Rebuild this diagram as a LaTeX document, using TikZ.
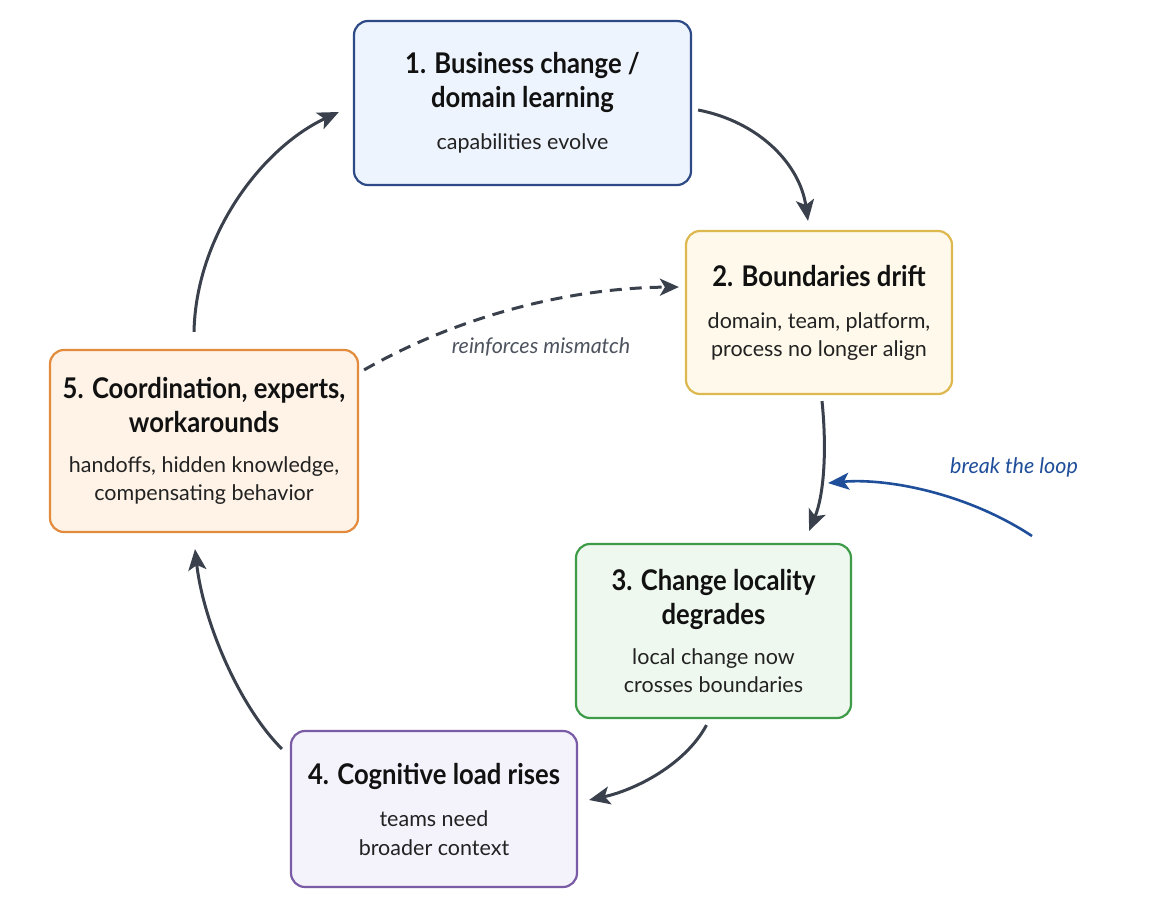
\documentclass[tikz,border=0pt]{standalone}
\usepackage{fontspec}
\setmainfont{Lato}
\newfontfamily\titlefont[FakeStretch=0.9]{Lato}
\usetikzlibrary{arrows.meta,calc}
\definecolor{arrowc}{HTML}{3A414D}
\definecolor{bluec}{HTML}{1F4E9A}
\definecolor{f1}{HTML}{EEF4FD}\definecolor{d1}{HTML}{2E4A86}
\definecolor{f2}{HTML}{FEF9EA}\definecolor{d2}{HTML}{DDB84E}
\definecolor{f3}{HTML}{EFF8EF}\definecolor{d3}{HTML}{3E9B48}
\definecolor{f4}{HTML}{F4F2FB}\definecolor{d4}{HTML}{7A5BA6}
\definecolor{f5}{HTML}{FEF3E6}\definecolor{d5}{HTML}{E38B3D}
\newcommand\ttl[1]{{\titlefont\bfseries\fontsize{28.5}{28}\selectfont\color[HTML]{111111}#1}}
\newcommand\sub[1]{{\color[HTML]{222222}#1}}
\begin{document}
\begin{tikzpicture}[x=1pt,y=-1pt,
  box/.style={rectangle,rounded corners=14pt,line width=2.2pt,align=center,
    inner sep=0pt,font=\fontsize{21.5}{28}\selectfont},
  arr/.style={line width=3pt,draw=arrowc,-{Stealth[length=21pt,width=18pt,inset=5pt]}},
  darr/.style={line width=3pt,draw=arrowc,dash pattern=on 12pt off 8pt,-{Stealth[length=19pt,width=17pt,inset=5pt]}},
  barr/.style={line width=2.6pt,draw=bluec,-{Stealth[length=21pt,width=17pt,inset=5pt]}},
  lbl/.style={font=\itshape\fontsize{21.5}{24}\selectfont}
]
\fill[white] (0,0) rectangle (1151,917);
\useasboundingbox (0,0) rectangle (1151,917);

\node[box,fill=f1,draw=d1,minimum width=337pt,minimum height=164pt] (b1) at (522.5,103)
  {\ttl{1. Business change /}\\[6pt]\ttl{domain learning}\\[14pt]\sub{capabilities evolve}};
\node[box,fill=f2,draw=d2,minimum width=266pt,minimum height=163pt] (b2) at (819,312.5)
  {\ttl{2. Boundaries drift}\\[14pt]\sub{domain, team, platform,}\\\sub{process no longer align}};
\node[box,fill=f3,draw=d3,minimum width=275pt,minimum height=174pt] (b3) at (713.5,631)
  {\ttl{3. Change locality}\\[6pt]\ttl{degrades}\\[12pt]\sub{local change now}\\\sub{crosses boundaries}};
\node[box,fill=f4,draw=d4,minimum width=286pt,minimum height=156pt] (b4) at (434,809)
  {\ttl{4. Cognitive load rises}\\[14pt]\sub{teams need}\\[1pt]\sub{broader context}};
\node[box,fill=f5,draw=d5,minimum width=308pt,minimum height=182pt] (b5) at (204,441)
  {\ttl{5. Coordination, experts,}\\[6pt]\ttl{workarounds}\\[12pt]\sub{handoffs, hidden knowledge,}\\\sub{compensating behavior}};

% main cycle
\draw[arr] ($(b1.east)+(6,7)$) .. controls (760,122) and (800,165) .. ($(b2.north)+(-11,-9)$);
\draw[arr] ($(b2.south)+(3,6)$) .. controls (827,450) and (824,495) .. ($(b3.north east)+(-43,-12)$);
\draw[arr] ($(b3.south)+(-7,6)$) .. controls (685,765) and (635,790) .. ($(b4.east)+(11,-9)$);
\draw[arr] ($(b4.north west)+(-8,19)$) .. controls (238,705) and (203,620) .. ($(b5.south)+(-9,16)$);
\draw[arr] ($(b5.north)+(-10,-17)$) .. controls (196,235) and (262,148) .. ($(b1.west)+(-14,9)$);

% dashed feedback
\draw[darr] ($(b5.north east)+(5,21)$) .. controls (455,318) and (565,288) .. ($(b2.west)+(-6,-25.5)$);
\node[lbl,text=arrowc!90] (lr) at (541,347) {reinforces mismatch};

% break the loop
\coordinate (bstart) at (1032,536);
\draw[barr] (bstart) .. controls (965,492) and (885,478) .. ($(b2.south)+(9,88)$);
\node[lbl,text=bluec] (lb) at (1014,467) {break the loop};
\end{tikzpicture}
\end{document}
